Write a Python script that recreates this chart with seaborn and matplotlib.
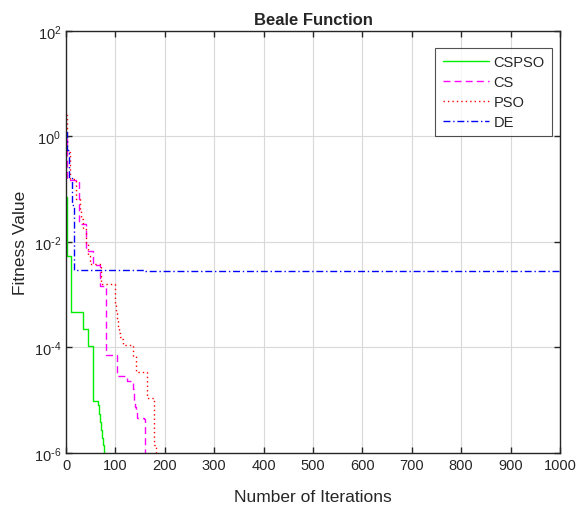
import math
import matplotlib
matplotlib.use("Agg")
import matplotlib.pyplot as plt
import matplotlib.ticker as mticker
import seaborn as sns
import pandas as pd

# breakpoints (iteration, best fitness), drawn as steps
cspso_it = [0, 2, 3, 10, 35, 44, 54, 65, 66, 67, 68, 69, 70, 71, 72, 73, 74, 75, 76, 77, 78, 80, 85, 90, 1000]
cspso_val = [0.07, 0.03, 0.0055, 4.7e-4, 2.2e-4, 1.08e-4, 9.8e-6, 8e-6, 6.8e-6, 5.6e-6, 4.6e-6, 3.9e-6,
             3.2e-6, 2.7e-6, 2.3e-6, 1.95e-6, 1.65e-6, 1.4e-6, 1.2e-6, 1.02e-6, 8.5e-7, 6e-7, 2.5e-7, 1e-7, 1e-7]

cs_it = [0, 2, 26, 41, 55, 69, 80, 103, 124, 136, 137, 138, 140, 142, 144, 158, 160, 1000]
cs_val = [0.9, 0.15, 0.022, 0.0068, 0.0037, 0.00144, 7.3e-5, 2.9e-5, 2.3e-5, 1.6e-5, 1.2e-5, 9.3e-6,
          7.5e-6, 6e-6, 4.7e-6, 4.4e-6, 5e-7, 5e-7]

pso_it = [0, 2, 8, 20, 29, 31, 34, 40, 44, 48, 71, 99, 101, 103, 105, 107, 109, 111, 115, 136, 141, 153, 163,
          178, 179, 183, 1000]
pso_val = [2.5, 0.5, 0.155, 0.066, 0.04, 0.027, 0.018, 0.009, 0.0054, 0.0038, 0.0016, 6.6e-4, 4.6e-4, 3.3e-4,
           2.4e-4, 1.9e-4, 1.6e-4, 1.45e-4, 1.12e-4, 6.9e-5, 3.4e-5, 3.4e-5, 1.1e-5, 2e-6, 1.4e-6, 5e-7, 5e-7]

de_it = [0, 3, 7, 12, 16, 160, 1000]
de_val = [1.2, 0.55, 0.16, 0.05, 0.0029, 0.00287, 0.00287]

series = ["CSPSO", "CS", "PSO", "DE"]
colors = ["#00ee00", "#ff00ff", "#ff0000", "#0000ff"]
dashes = ["", (5, 3), (1, 2.2), (5, 2, 1, 2)]

frames = []
for name, its, vals in zip(series, [cspso_it, cs_it, pso_it, de_it],
                           [cspso_val, cs_val, pso_val, de_val]):
    frames.append(pd.DataFrame({"Iteration": its, "Fitness": vals, "Algorithm": name}))
df = pd.concat(frames, ignore_index=True)

sns.set_style("white")
plt.rcParams["font.family"] = ["Liberation Sans", "DejaVu Sans"]
plt.rcParams["mathtext.default"] = "regular"

fig = plt.figure(figsize=(5.77, 5.10), dpi=100)
ax = fig.add_axes([0.1144, 0.1098, 0.9705 - 0.1144, 0.9373 - 0.1098])

sns.lineplot(
    data=df,
    x="Iteration",
    y="Fitness",
    hue="Algorithm",
    style="Algorithm",
    palette=dict(zip(series, colors)),
    dashes=dict(zip(series, dashes)),
    hue_order=series,
    style_order=series,
    sort=False,
    estimator=None,
    drawstyle="steps-post",
    linewidth=1.0,
    ax=ax,
)

ax.set_yscale("log")
ax.set_xlim(0, 1000)
ax.set_ylim(1e-6, 1e2)
ax.set_xticks(range(0, 1001, 100))
ax.yaxis.set_major_locator(mticker.FixedLocator([1e-6, 1e-4, 1e-2, 1e0, 1e2]))
ax.yaxis.set_minor_locator(mticker.NullLocator())


def pow10(v, pos):
    e = round(math.log10(v))
    if e < 0:
        return r"$10^{\text{-}%d}$" % (-e)
    return "$10^{%d}$" % e


ax.yaxis.set_major_formatter(mticker.FuncFormatter(pow10))

ax.grid(True, color="#d9d9d9", linewidth=0.8)
ax.set_axisbelow(True)
for sp in ax.spines.values():
    sp.set_color("#262626")
    sp.set_linewidth(1.0)
ax.tick_params(direction="in", length=4, width=1, colors="#262626", labelcolor="#262626",
               labelsize=10.5, top=True, right=True, bottom=True, left=True)

ax.set_title("Beale Function", fontsize=12, fontweight="bold", pad=5)
ax.set_xlabel("Number of Iterations", fontsize=12.5, color="#262626", labelpad=12)
ax.set_ylabel("Fitness Value", fontsize=12.5, color="#262626")

leg = ax.legend(loc="upper right", bbox_to_anchor=(0.984, 0.96), borderaxespad=0, fontsize=10.5,
                handlelength=3.2, frameon=True, fancybox=False, edgecolor="#262626",
                borderpad=0.5, labelspacing=0.4, handletextpad=0.3)
leg.get_frame().set_linewidth(0.8)

fig.savefig("out.png", dpi=100)
